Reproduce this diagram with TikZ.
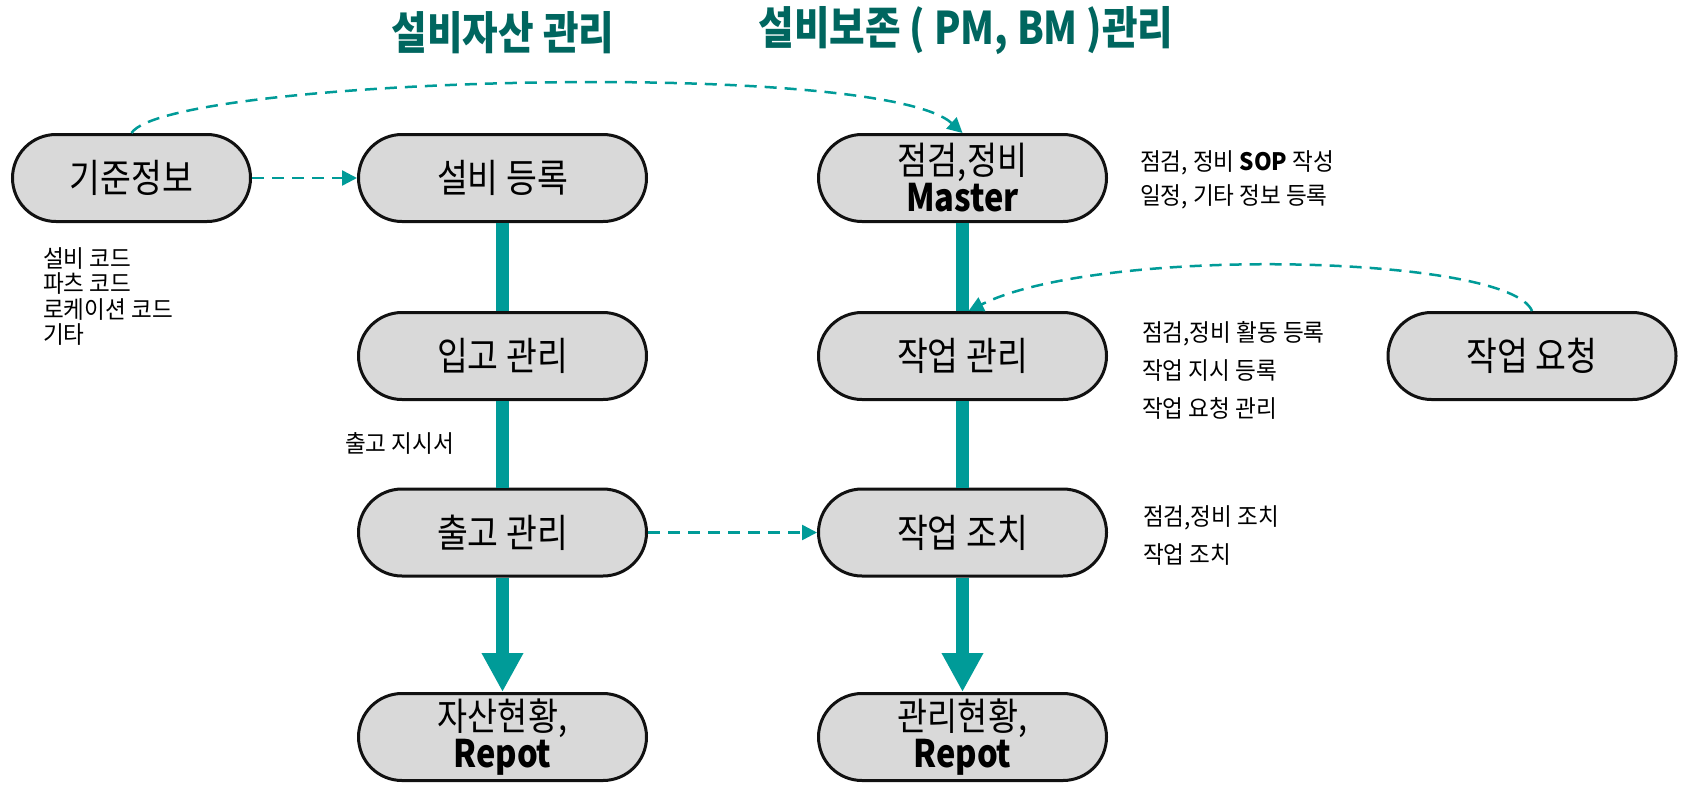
\documentclass[tikz,border=0pt]{standalone}
\usepackage{fontspec}
\setmainfont{Noto Sans CJK KR}[FakeStretch=0.86]
\newfontfamily\notefont{Noto Sans CJK KR}[FakeStretch=0.94]
\usetikzlibrary{arrows.meta}
\definecolor{tealline}{HTML}{009B98}
\definecolor{tealhead}{HTML}{00665F}
\definecolor{boxfill}{HTML}{D9D9D9}
\definecolor{boxline}{HTML}{111111}
\begin{document}
\begin{tikzpicture}[x=1pt,y=-1pt,
  pillbox/.style={draw=boxline, fill=boxfill, line width=3pt, rounded corners=43.5pt,
    minimum width=288pt, minimum height=87pt, inner sep=0pt, align=center,
    font=\fontsize{39}{42}\selectfont},
  pilltwo/.style={pillbox, font=\fontsize{38}{37}\selectfont},
  notetext/.style={anchor=west, align=left, inner sep=0pt},
  headtext/.style={text=tealhead, font=\bfseries\fontsize{45}{48}\selectfont, inner sep=0pt},
  flowline/.style={draw=tealline, line width=13pt},
  flowarrow/.style={flowline, -{Triangle[length=39pt,width=39pt]}},
  dashlink/.style={draw=tealline, line width=2.5pt, dash pattern=on 12pt off 8pt,
    -{Triangle[length=15pt,width=15pt]}}
]
\useasboundingbox (0,0) rectangle (1691,787);

% titles
\node[headtext] (t1) at (503,33) {설비자산 관리};
\node[headtext] (t2) at (966,31) {설비보존 ( PM, BM )관리};

% boxes
\node[pillbox, minimum width=238pt] (kijun) at (131.5,178) {기준정보};
\node[pillbox] (reg) at (502.5,178) {설비 등록};
\node[pillbox] (inb) at (502.5,356) {입고 관리};
\node[pillbox] (outb) at (502.5,532.5) {출고 관리};
\node[pilltwo] (asset) at (502.5,737) {자산현황,\\\textbf{Repot}};
\node[pilltwo] (master) at (962.5,178) {점검,정비\\\textbf{Master}};
\node[pillbox] (work) at (962.5,356) {작업 관리};
\node[pillbox] (act) at (962.5,532.5) {작업 조치};
\node[pilltwo] (mgmt) at (962.5,737) {관리현황,\\\textbf{Repot}};
\node[pillbox] (req) at (1532,356) {작업 요청};

% side notes
\node[notetext, font=\notefont\fontsize{24}{25.5}\selectfont] (codes) at (43,296.5)
  {설비 코드\\파츠 코드\\로케이션 코드\\기타};
\node[notetext, font=\notefont\fontsize{24}{28}\selectfont] (outnote) at (345,443) {출고 지시서};
\node[notetext, font=\notefont\fontsize{24}{34}\selectfont] (masternote) at (1140,180)
  {점검, 정비 \textbf{SOP} 작성\\일정, 기타 정보 등록};
\node[notetext, font=\notefont\fontsize{24}{38}\selectfont] (worknote) at (1142,370)
  {점검,정비 활동 등록\\작업 지시 등록\\작업 요청 관리};
\node[notetext, font=\notefont\fontsize{24}{38}\selectfont] (actnote) at (1143,536)
  {점검,정비 조치\\작업 조치};

% main flows
\draw[flowline] (reg.south) -- (inb.north);
\draw[flowline] (inb.south) -- (outb.north);
\draw[flowarrow] (outb.south) -- (asset.north);
\draw[flowline] (master.south) -- (work.north);
\draw[flowline] (work.south) -- (act.north);
\draw[flowarrow] (act.south) -- (mgmt.north);

% dashed links
\draw[dashlink] (kijun.north) .. controls (168,77) and (880,58) .. (master.north);
\draw[dashlink] (kijun.east) -- (reg.west);
\draw[dashlink] (outb.east) -- (act.west);
\draw[dashlink] (req.north) .. controls (1510,255) and (1100,245) .. ([xshift=6pt]work.north);
\end{tikzpicture}
\end{document}
